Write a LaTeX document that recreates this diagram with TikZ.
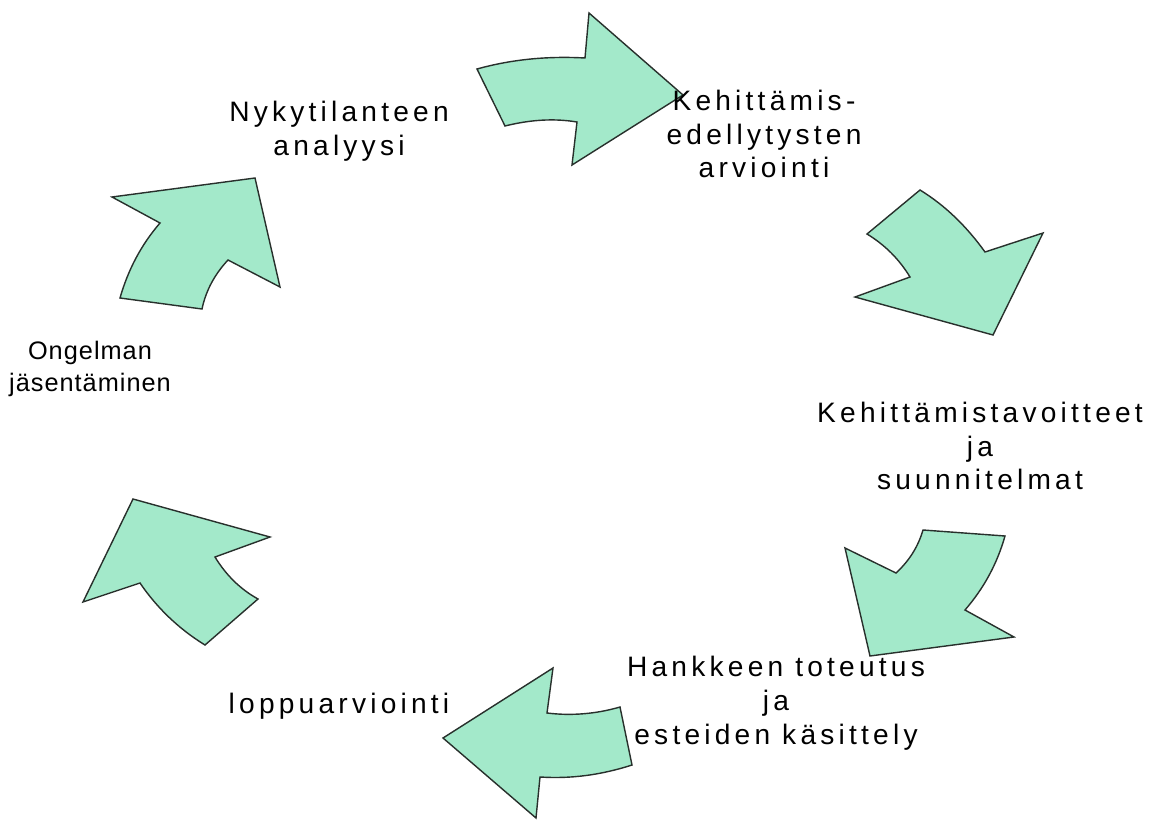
\documentclass[tikz,border=0pt]{standalone}
\usepackage{fontspec}
\newfontfamily\phasefont{Liberation Sans}[LetterSpace=15]
\newfontfamily\narrowphasefont{Liberation Sans}[LetterSpace=4]
\definecolor{mint}{RGB}{163,233,202}
\definecolor{edgegray}{RGB}{40,48,44}
\usetikzlibrary{positioning}

\begin{document}
\begin{tikzpicture}[x=0.025cm, y=-0.025cm,
	cyclearrow/.style={fill=mint, draw=edgegray, line width=1pt, line join=miter},
	phase/.style={anchor=center, align=center, inner sep=0pt, font=\phasefont\fontsize{20}{24}\selectfont}]
			\useasboundingbox (0,0) rectangle (1165,821);
			% Arrows:
			\path[cyclearrow] (477,69) .. controls (513,59) and (549,56) .. (585,58) -- (589,13) -- (683,95) -- (572,165) -- (577,122) .. controls (553,118) and (529,120) .. (505,126) -- cycle;
			\path[cyclearrow] (920,190) .. controls (946,206) and (967,227) .. (985,252) -- (1043,233) -- (993,335) -- (855,297) -- (910,277) .. controls (899,259) and (885,245) .. (867,234) -- cycle;
			\path[cyclearrow] (923,530) -- (1005,536) .. controls (997,564) and (984,588) .. (965,610) -- (1014,637) -- (870,656) -- (845,548) -- (896,573) .. controls (909,561) and (918,547) .. (923,530) -- cycle;
			\path[cyclearrow] (553,668) -- (547,713) .. controls (571,716) and (596,714) .. (620,707) -- (632,765) .. controls (601,775) and (571,779) .. (540,777) -- (536,818) -- (443,738) -- cycle;
			\path[cyclearrow] (133,499) -- (270,537) -- (215,557) .. controls (226,575) and (240,589) .. (258,599) -- (205,645) .. controls (179,629) and (157,608) .. (140,583) -- (83,602) -- cycle;
			\path[cyclearrow] (112,197) -- (255,178) -- (280,287) -- (228,260) .. controls (215,274) and (206,290) .. (202,309) -- (120,298) .. controls (128,270) and (141,245) .. (160,223) -- cycle;
			% Phases:
			\node[phase] (nyky) at (339,131) {Nykytilanteen\\analyysi};
			\node[phase] (edell) at (764,134) {Kehittämis-\\edellytysten\\arviointi};
			\node[phase] (tavoite) at (980,446) {Kehittämistavoitteet\\ja\\suunnitelmat};
			\node[phase] (toteutus) at (776,703) {Hankkeen toteutus\\ja\\esteiden käsittely};
			\node[phase] (loppu) at (339,706) {loppuarviointi};
			\node[phase, font=\narrowphasefont\fontsize{18}{23}\selectfont] (ongelma) at (90,369) {Ongelman\\jäsentäminen};
		\end{tikzpicture}
\end{document}
